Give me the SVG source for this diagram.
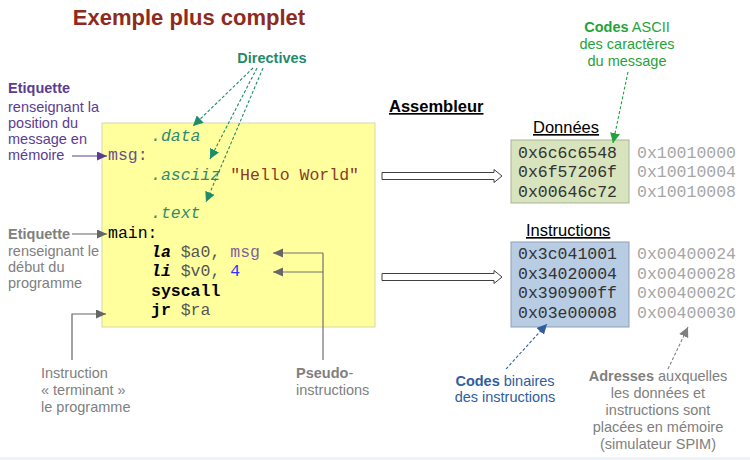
<svg xmlns="http://www.w3.org/2000/svg" width="750" height="460" viewBox="0 0 750 460">
<style>
.sans{font-family:"Liberation Sans",Arial,sans-serif}
.mono{font-family:"Liberation Mono","Courier New",monospace;font-size:16.5px}
.lbl{font-size:14.5px}
.b{font-weight:bold}
.dir{fill:#2e8b6f;font-style:italic}
.gray{fill:#808080}
.addr{fill:#a6a6a6}
.val{fill:#333333}
.dash{fill:none;stroke-width:1.1;stroke-dasharray:3,2}
</style>
<defs>
<marker id="mTeal" markerUnits="userSpaceOnUse" markerWidth="12" markerHeight="10" refX="10" refY="5" orient="auto"><path d="M0,0 L10,5 L0,10 Z" fill="#1f8b6b"/></marker>
<marker id="mGreen" markerUnits="userSpaceOnUse" markerWidth="12" markerHeight="10" refX="10" refY="5" orient="auto"><path d="M0,0 L10,5 L0,10 Z" fill="#1fa33a"/></marker>
<marker id="mBlue" markerUnits="userSpaceOnUse" markerWidth="12" markerHeight="10" refX="10" refY="5" orient="auto"><path d="M0,0 L10,5 L0,10 Z" fill="#2f5e9e"/></marker>
<marker id="mGray" markerUnits="userSpaceOnUse" markerWidth="12" markerHeight="10" refX="10" refY="5" orient="auto"><path d="M0,0 L10,5 L0,10 Z" fill="#808080"/></marker>
<marker id="mPurple" markerUnits="userSpaceOnUse" markerWidth="12" markerHeight="10" refX="10" refY="4.5" orient="auto"><path d="M0,0 L10,4.5 L0,9 Z" fill="#5b3c93"/></marker>
<marker id="mDark" markerUnits="userSpaceOnUse" markerWidth="12" markerHeight="10" refX="10" refY="4.5" orient="auto"><path d="M0,0 L10,4.5 L0,9 Z" fill="#666666"/></marker>
</defs>
<rect x="0" y="0" width="750" height="460" fill="#ffffff"/>
<rect x="0" y="457" width="750" height="3" fill="#eef1f5"/>

<g id="title"><text class="sans b" x="189" y="25" font-size="22" text-anchor="middle" fill="#8e2b1e">Exemple plus complet</text></g>

<g id="code">
<rect x="102" y="123" width="273" height="204" fill="#ffff9e" stroke="#d8d8a8" stroke-width="1"/>
<text class="mono dir" x="151" y="141">.data</text>
<text class="mono" x="108" y="160" fill="#6a4f8a">msg:</text>
<text class="mono" x="151" y="180"><tspan class="dir">.asciiz</tspan> <tspan fill="#8b3a2a">"Hello World"</tspan></text>
<text class="mono dir" x="151" y="218">.text</text>
<text class="mono" x="108" y="238" fill="#000">main:</text>
<text class="mono" x="151" y="257"><tspan font-weight="bold" font-style="italic" fill="#000">la</tspan> <tspan fill="#555">$a0,</tspan> <tspan fill="#8060a0">msg</tspan></text>
<text class="mono" x="151" y="276"><tspan font-weight="bold" font-style="italic" fill="#000">li</tspan> <tspan fill="#555">$v0,</tspan> <tspan fill="#3333ff">4</tspan></text>
<text class="mono" x="151" y="296" font-weight="bold" fill="#000">syscall</text>
<text class="mono" x="151" y="315"><tspan font-weight="bold" fill="#000">jr</tspan> <tspan fill="#555">$ra</tspan></text>
</g>

<g id="directives"><text class="sans b" x="272" y="63" font-size="14.5" text-anchor="middle" fill="#1f8b6b">Directives</text></g>

<g id="etiquette-msg" class="sans lbl" fill="#5b3c93">
<text x="8" y="93" class="b">Etiquette</text>
<text x="8" y="112">renseignant la</text>
<text x="8" y="128">position du</text>
<text x="8" y="144">message en</text>
<text x="8" y="160">mémoire</text>
</g>

<g id="etiquette-main" class="sans lbl" fill="#808080">
<text x="8" y="239" class="b">Etiquette</text>
<text x="8" y="256">renseignant le</text>
<text x="8" y="272">début du</text>
<text x="8" y="288">programme</text>
</g>

<g id="instruction-fin" class="sans lbl" fill="#808080">
<text x="41" y="378">Instruction</text>
<text x="41" y="395">« terminant »</text>
<text x="41" y="412">le programme</text>
</g>

<g id="pseudo" class="sans lbl" fill="#808080">
<text x="296" y="378"><tspan class="b">Pseudo</tspan>-</text>
<text x="296" y="395">instructions</text>
</g>

<g id="assembleur"><text class="sans b" x="389" y="112" font-size="16.5" fill="#000" text-decoration="underline">Assembleur</text></g>

<g id="donnees">
<text class="sans" x="533" y="133" font-size="16.5" fill="#000" text-decoration="underline">Données</text>
<rect x="511" y="140" width="118" height="63" fill="#d7e4bd" stroke="#a9b394" stroke-width="1"/>
<text class="mono val" x="518" y="158">0x6c6c6548</text>
<text class="mono val" x="518" y="177">0x6f57206f</text>
<text class="mono val" x="518" y="197">0x00646c72</text>
<text class="mono addr" x="637" y="158">0x10010000</text>
<text class="mono addr" x="637" y="177">0x10010004</text>
<text class="mono addr" x="637" y="197">0x10010008</text>
</g>

<g id="instructions">
<text class="sans" x="526" y="236" font-size="16.5" fill="#000" text-decoration="underline">Instructions</text>
<rect x="511" y="242" width="118" height="85" fill="#b8cce4" stroke="#8e9fb6" stroke-width="1"/>
<text class="mono val" x="518" y="259">0x3c041001</text>
<text class="mono val" x="518" y="279">0x34020004</text>
<text class="mono val" x="518" y="298">0x390900ff</text>
<text class="mono val" x="518" y="318">0x03e00008</text>
<text class="mono addr" x="637" y="259">0x00400024</text>
<text class="mono addr" x="637" y="279">0x00400028</text>
<text class="mono addr" x="637" y="298">0x0040002C</text>
<text class="mono addr" x="637" y="318">0x00400030</text>
</g>

<g id="codes-ascii" class="sans lbl" fill="#1fa33a" text-anchor="middle">
<text x="627" y="32"><tspan class="b">Codes</tspan> ASCII</text>
<text x="627" y="49">des caractères</text>
<text x="627" y="66">du message</text>
</g>

<g id="codes-binaires" class="sans lbl" fill="#2f5e9e" text-anchor="middle">
<text x="505" y="386"><tspan class="b">Codes</tspan> binaires</text>
<text x="505" y="402">des instructions</text>
</g>

<g id="adresses" class="sans lbl" fill="#808080" text-anchor="middle">
<text x="658" y="381"><tspan class="b">Adresses</tspan> auxquelles</text>
<text x="658" y="398">les données et</text>
<text x="658" y="415">instructions sont</text>
<text x="658" y="432">placées en mémoire</text>
<text x="658" y="449">(simulateur SPIM)</text>
</g>

<g id="connectors">
<path class="dash" d="M253,68 L193,126" stroke="#1f8b6b" marker-end="url(#mTeal)"/>
<path class="dash" d="M257,68 L210,159" stroke="#1f8b6b" marker-end="url(#mTeal)"/>
<path class="dash" d="M263,68 L206,202" stroke="#1f8b6b" marker-end="url(#mTeal)"/>
<path class="dash" d="M628,72 L613,143" stroke="#1fa33a" marker-end="url(#mGreen)"/>
<path class="dash" d="M506,369 L547,324" stroke="#2f5e9e" marker-end="url(#mBlue)"/>
<path class="dash" d="M668,369 L688,327" stroke="#808080" marker-end="url(#mGray)"/>
<path d="M72,156 L107,156" fill="none" stroke="#5b3c93" stroke-width="1.2" marker-end="url(#mPurple)"/>
<path d="M72,234 L107,234" fill="none" stroke="#666666" stroke-width="1.2" marker-end="url(#mDark)"/>
<path d="M72,360 L72,314 L106,314" fill="none" stroke="#666666" stroke-width="1.2" marker-end="url(#mDark)"/>
<path d="M323,360 L323,253" fill="none" stroke="#707070" stroke-width="1.2"/>
<path d="M323,253 L273,253" fill="none" stroke="#707070" stroke-width="1.2" marker-end="url(#mDark)"/>
<path d="M323,272 L273,272" fill="none" stroke="#707070" stroke-width="1.2" marker-end="url(#mDark)"/>
<polygon points="382,172.5 494,172.5 494,169.5 502,176 494,182.5 494,179.5 382,179.5" fill="#ffffff" stroke="#404040" stroke-width="1"/>
<polygon points="382,273.5 494,273.5 494,270.5 502,277 494,283.5 494,280.5 382,280.5" fill="#ffffff" stroke="#404040" stroke-width="1"/>
</g>
</svg>
